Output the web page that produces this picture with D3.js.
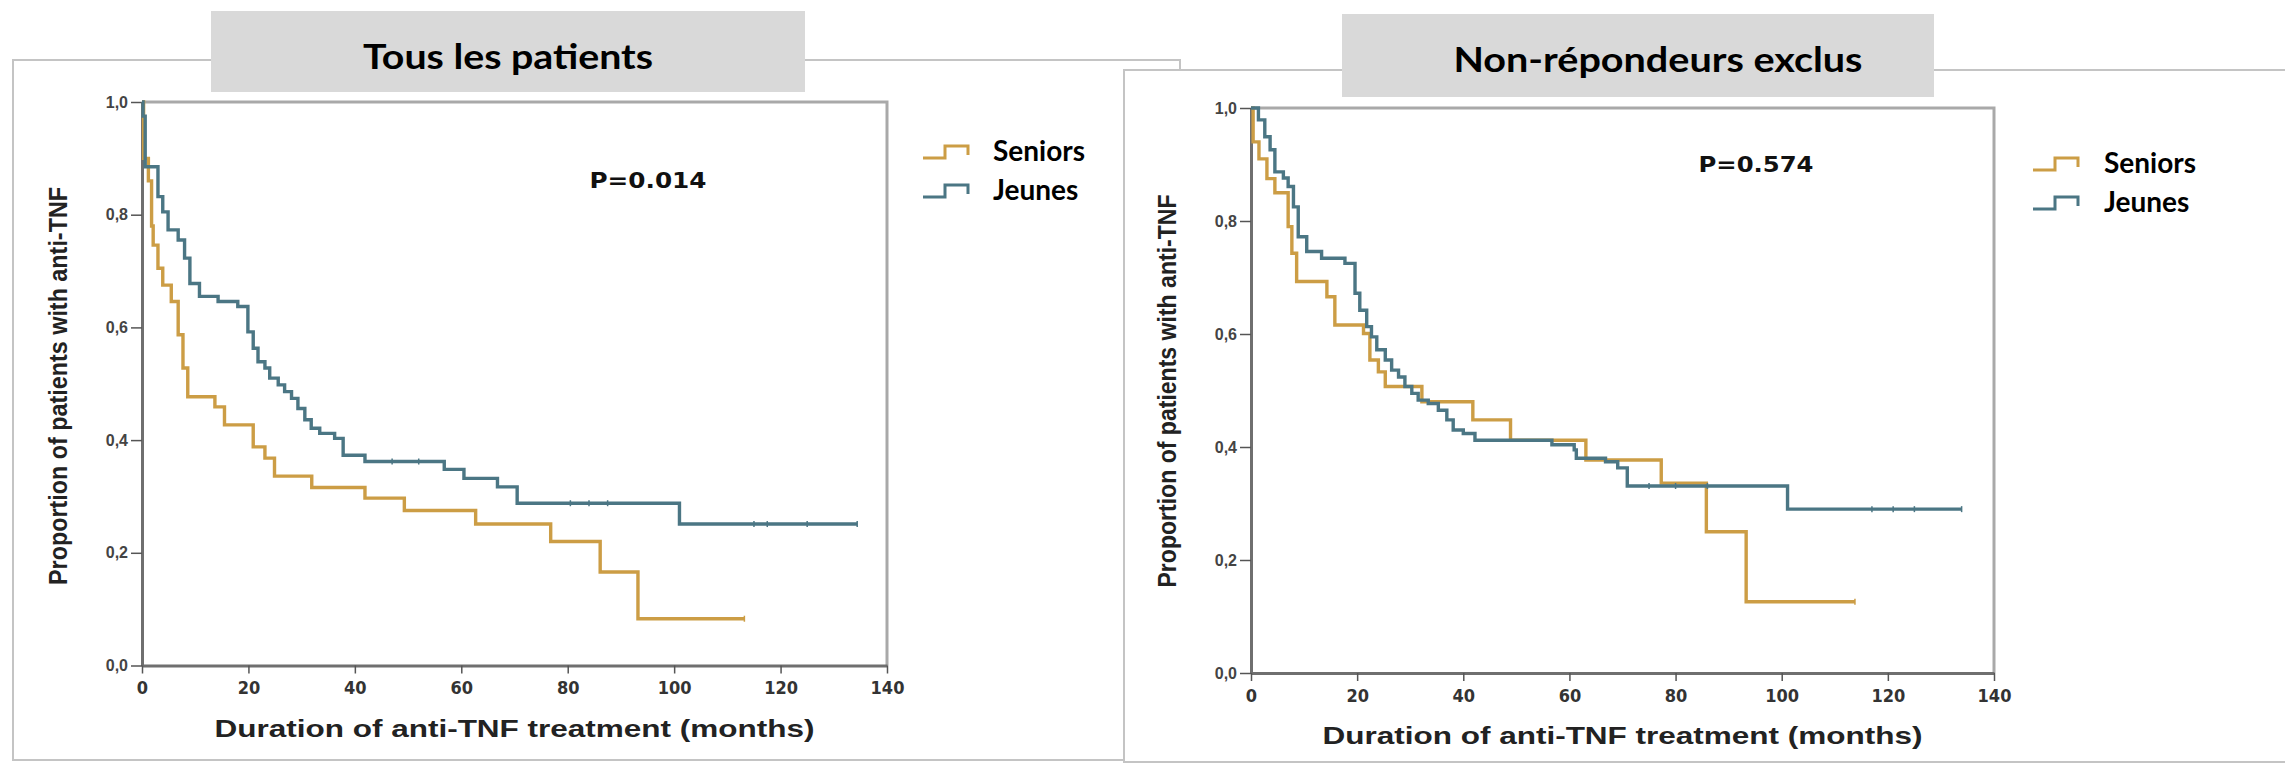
<!DOCTYPE html>
<html>
<head>
<meta charset="utf-8">
<script src="https://cdn.jsdelivr.net/npm/d3@7"></script>
<style>
  html, body { margin: 0; padding: 0; background: #ffffff; }
  svg { display: block; }
</style>
</head>
<body>
<svg id="chart" width="2285" height="764"></svg>
<script>
// Kaplan-Meier estimates: [month, proportion still on anti-TNF] at each event time
const allSeniors = [[0,1],[0.3,0.90],[1.2,0.86],[1.8,0.78],[2.1,0.746],[3.0,0.705],[3.9,0.675],[5.5,0.646],[6.8,0.587],[7.7,0.528],[8.6,0.477],[13.7,0.459],[15.5,0.427],[20.9,0.388],[23.1,0.368],[24.9,0.336],[31.9,0.316],[41.9,0.297],[49.3,0.275],[62.7,0.251],[76.8,0.220],[86.1,0.166],[93.2,0.083]];
const allSeniorsEnd = 113.2;
const allSeniorsCensored = [113.2];

const allJeunes = [[0,1],[0.2,0.975],[0.6,0.885],[3.0,0.832],[3.9,0.805],[4.9,0.773],[6.8,0.755],[8.0,0.723],[9.0,0.678],[10.8,0.655],[14.3,0.646],[18.0,0.637],[19.9,0.592],[20.9,0.563],[21.8,0.539],[23.1,0.528],[24.0,0.510],[25.6,0.498],[26.8,0.486],[28.1,0.474],[29.3,0.456],[30.6,0.436],[31.8,0.421],[33.4,0.412],[36.2,0.403],[37.8,0.373],[41.9,0.362],[56.8,0.348],[60.5,0.332],[66.8,0.317],[70.5,0.288],[101.0,0.251]];
const allJeunesEnd = 134.4;
const allJeunesCensored = [47, 52, 80.5, 84, 87.5, 115, 117.5, 125, 134.4];

const exclSeniors = [[0,1],[0.4,0.94],[1.5,0.91],[3.0,0.875],[4.5,0.85],[7.0,0.79],[7.7,0.743],[8.6,0.693],[14.3,0.666],[15.8,0.616],[21.2,0.601],[22.4,0.554],[24.0,0.533],[25.3,0.507],[32.2,0.480],[41.8,0.448],[48.9,0.412],[63.1,0.377],[77.3,0.336],[85.8,0.250],[93.3,0.126]];
const exclSeniorsEnd = 113.8;
const exclSeniorsCensored = [113.8];

const exclJeunes = [[0,1],[1.4,0.979],[2.6,0.949],[3.6,0.926],[4.5,0.887],[6.1,0.876],[7.0,0.861],[8.0,0.825],[8.9,0.772],[10.5,0.746],[13.3,0.734],[17.7,0.725],[19.6,0.672],[20.5,0.642],[21.8,0.613],[22.7,0.595],[23.7,0.572],[25.3,0.554],[26.5,0.536],[27.8,0.524],[29.0,0.507],[30.3,0.495],[31.5,0.483],[33.4,0.477],[35.3,0.465],[36.9,0.448],[38.1,0.430],[40.0,0.424],[42.2,0.412],[56.7,0.404],[60.9,0.395],[61.3,0.380],[66.8,0.374],[69.1,0.363],[70.9,0.331],[101.1,0.290]];
const exclJeunesEnd = 133.9;
const exclJeunesCensored = [75, 80, 86, 117, 121, 125, 133.9];

const panelTitles = ["Tous les patients", "Non-répondeurs exclus"];
const pValues = ["P=0.014", "P=0.574"];
const seriesNames = ["Seniors", "Jeunes"];
const xTicks = [0, 20, 40, 60, 80, 100, 120, 140];
const yTicks = [0, 0.2, 0.4, 0.6, 0.8, 1.0];
const xTitle = "Duration of anti-TNF treatment (months)";
const yTitle = "Proportion of patients with anti-TNF";

const colors = { Seniors: "#cc9d45", Jeunes: "#4b7684" };

const svg = d3.select("#chart");

// panel geometry
const layouts = [
  { frame: [13, 60, 1180, 760], box: [211, 11, 805, 92], titleX: 508, titleY: 69, titleLen: 290,
    plot: [142, 887, 102, 665.5], p: [648, 188, 117], legend: [923, 993, 152, 191],
    yTitleX: 58, yTitleY: 386, yTitleLen: 398, xTitleY: 737,
    series: [[allSeniors, allSeniorsEnd, allSeniorsCensored], [allJeunes, allJeunesEnd, allJeunesCensored]] },
  { frame: [1124, 70, 2300, 762], box: [1342, 14, 1934, 97], titleX: 1658, titleY: 72, titleLen: 409,
    plot: [1251, 1994, 108, 673], p: [1756, 172, 115], legend: [2033, 2104, 164, 203],
    yTitleX: 1167, yTitleY: 391, yTitleLen: 393, xTitleY: 744,
    series: [[exclSeniors, exclSeniorsEnd, exclSeniorsCensored], [exclJeunes, exclJeunesEnd, exclJeunesCensored]] }
];

layouts.forEach((L, i) => {
  const g = svg.append("g");
  const [fx0, fy0, fx1, fy1] = L.frame;
  g.append("rect").attr("x", fx0).attr("y", fy0).attr("width", fx1 - fx0).attr("height", fy1 - fy0)
    .attr("fill", "#ffffff").attr("stroke", "#c4c4c4").attr("stroke-width", 2);

  // title box
  const [bx0, by0, bx1, by1] = L.box;
  g.append("rect").attr("x", bx0).attr("y", by0).attr("width", bx1 - bx0).attr("height", by1 - by0)
    .attr("fill", "#d9d9d9");
  g.append("text").attr("x", L.titleX).attr("y", L.titleY)
    .attr("text-anchor", "middle").attr("font-family", "Lato, 'Open Sans', sans-serif")
    .attr("font-weight", "bold").attr("font-size", 35).attr("fill", "#000")
    .attr("textLength", L.titleLen).attr("lengthAdjust", "spacingAndGlyphs")
    .text(panelTitles[i]);

  const [px0, px1, pyTop, pyBot] = L.plot;
  const x = d3.scaleLinear().domain([0, 140]).range([px0, px1]);
  const y = d3.scaleLinear().domain([0, 1]).range([pyBot, pyTop]);

  // plot frame (top / right)
  g.append("path")
    .attr("d", `M${x(0)},${y(1)}H${x(140)}V${y(0)}`)
    .attr("fill", "none").attr("stroke", "#a9a9a9").attr("stroke-width", 3);

  // axes
  const yAxis = d3.axisLeft(y).tickValues(yTicks).tickSize(11).tickSizeOuter(0)
    .tickFormat(d => d3.format(".1f")(d).replace(".", ","));
  const gy = g.append("g").attr("transform", `translate(${x(0)},0)`).call(yAxis);
  gy.select(".domain").attr("stroke", "#6f6f6f").attr("stroke-width", 3);
  gy.selectAll(".tick line").attr("stroke", "#555").attr("stroke-width", 1.5);
  gy.selectAll(".tick text").attr("font-family", "'Liberation Sans', Arial, sans-serif")
    .attr("font-weight", "bold").attr("font-size", 16).attr("fill", "#444").attr("x", -14);

  const xAxis = d3.axisBottom(x).tickValues(xTicks).tickSize(8).tickSizeOuter(0);
  const gx = g.append("g").attr("transform", `translate(0,${y(0)})`).call(xAxis);
  gx.select(".domain").attr("stroke", "#6f6f6f").attr("stroke-width", 3);
  gx.selectAll(".tick line").attr("stroke", "#555").attr("stroke-width", 1.5);
  gx.selectAll(".tick text").attr("font-family", "'Liberation Sans Narrow', 'DejaVu Sans Condensed', 'Liberation Sans', sans-serif")
    .attr("font-weight", "bold").attr("font-size", 18).attr("fill", "#333").attr("y", 16);

  // axis titles
  g.append("text").attr("x", (px0 + px1) / 2).attr("y", L.xTitleY)
    .attr("text-anchor", "middle").attr("font-family", "'Liberation Sans', Arial, sans-serif")
    .attr("font-weight", "bold").attr("font-size", 24).attr("fill", "#222")
    .attr("textLength", 600).attr("lengthAdjust", "spacingAndGlyphs")
    .text(xTitle);
  g.append("text").attr("transform", `translate(${L.yTitleX + 9},${L.yTitleY}) rotate(-90)`)
    .attr("text-anchor", "middle").attr("font-family", "'Liberation Sans', Arial, sans-serif")
    .attr("font-weight", "bold").attr("font-size", 25).attr("fill", "#222")
    .attr("textLength", L.yTitleLen).attr("lengthAdjust", "spacingAndGlyphs")
    .text(yTitle);

  // survival curves
  const line = d3.line().x(d => x(d[0])).y(d => y(d[1])).curve(d3.curveStepAfter);
  L.series.forEach(([pts, end, cens], k) => {
    const color = colors[seriesNames[k]];
    const full = pts.concat([[end, pts[pts.length - 1][1]]]);
    g.append("path").datum(full).attr("d", line)
      .attr("fill", "none").attr("stroke", color).attr("stroke-width", 3.4)
      .attr("stroke-linejoin", "miter");
    // censored observations
    const levelAt = t => { let v = pts[0][1]; for (const p of pts) { if (p[0] <= t) v = p[1]; } return v; };
    g.selectAll(null).data(cens).enter().append("line")
      .attr("x1", d => x(d)).attr("x2", d => x(d))
      .attr("y1", d => y(levelAt(d)) - 3).attr("y2", d => y(levelAt(d)) + 3)
      .attr("stroke", color).attr("stroke-width", 1.5);
  });

  // p-value
  g.append("text").attr("x", L.p[0]).attr("y", L.p[1]).attr("text-anchor", "middle")
    .attr("font-family", "'DejaVu Sans', sans-serif").attr("font-weight", "bold")
    .attr("font-size", 22).attr("fill", "#111")
    .attr("textLength", L.p[2]).attr("lengthAdjust", "spacingAndGlyphs")
    .text(pValues[i]);

  // legend
  const [sx, tx, ly0, ly1] = L.legend;
  [ly0, ly1].forEach((ly, k) => {
    const color = colors[seriesNames[k]];
    g.append("path")
      .attr("d", `M${sx},${ly + 6}H${sx + 22}V${ly - 6}H${sx + 45}V${ly + 3}`)
      .attr("fill", "none").attr("stroke", color).attr("stroke-width", 3);
    g.append("text").attr("x", tx).attr("y", ly + 9)
      .attr("font-family", "Lato, 'Open Sans', sans-serif").attr("font-weight", "bold")
      .attr("font-size", 28).attr("fill", "#000")
      .text(seriesNames[k]);
  });
});
</script>
</body>
</html>
